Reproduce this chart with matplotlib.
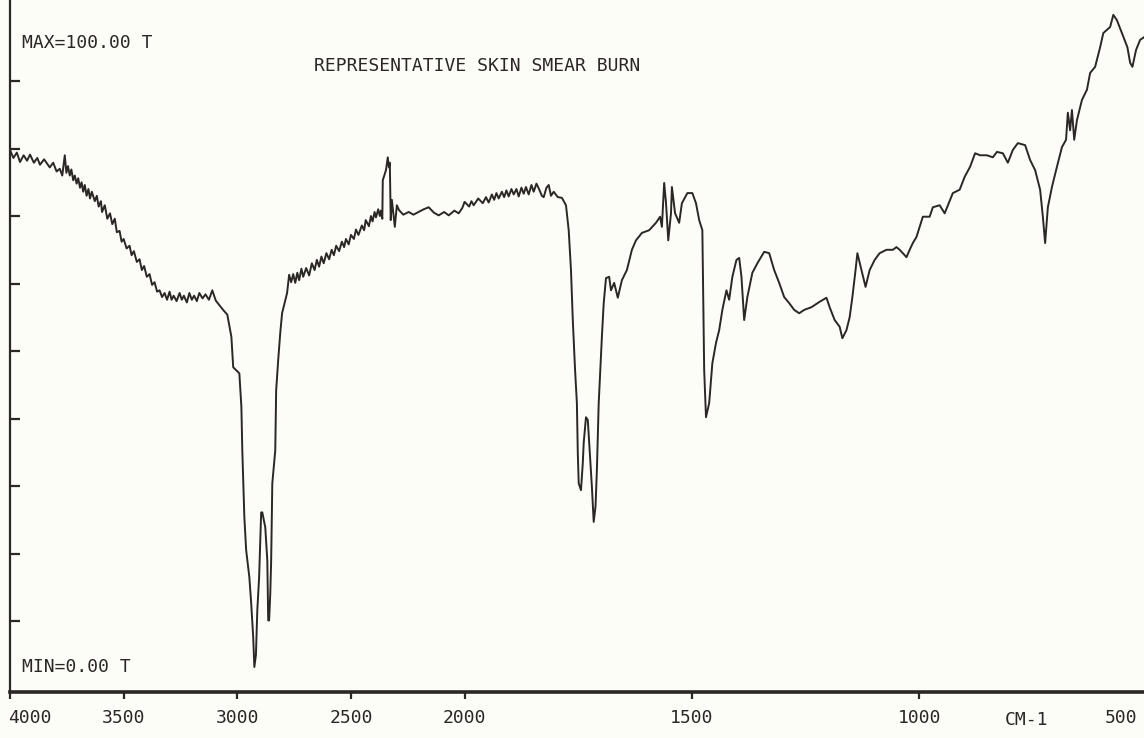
import numpy as np
import matplotlib.pyplot as plt
from matplotlib.transforms import ScaledTranslation

plt.rcParams['font.family'] = 'DejaVu Sans Mono'

# IR spectrum, wavenumber (cm-1) vs. transmittance (%T)
wavenumber = [
    4000, 3985, 3970, 3956, 3940, 3925, 3912, 3895, 3880, 3868, 3850, 3825,
    3810, 3795, 3781, 3770, 3759, 3752, 3745, 3737, 3730, 3722, 3715, 3707,
    3700, 3692, 3685, 3678, 3671, 3663, 3655, 3648, 3640, 3627, 3618, 3610,
    3600, 3595, 3583, 3572, 3560, 3550, 3539, 3530, 3518, 3509, 3500, 3487,
    3474, 3465, 3455, 3442, 3430, 3420, 3410, 3398, 3386, 3375, 3364, 3353,
    3342, 3331, 3320, 3309, 3298, 3289, 3280, 3267, 3254, 3244, 3235, 3222,
    3211, 3200, 3190, 3178, 3167, 3153, 3140, 3125, 3110,
    3095, 3079, 3060, 3044, 3026, 3018, 2991, 2982, 2978,
    2969, 2961, 2947, 2939, 2930, 2925, 2918, 2912, 2904, 2895, 2890, 2877,
    2868, 2864, 2860, 2855, 2851, 2846, 2833, 2829, 2820, 2811, 2803, 2781,
    2772, 2763, 2754, 2745, 2736, 2728, 2718, 2710, 2697, 2684, 2672, 2660,
    2650, 2640, 2630, 2620, 2608, 2596, 2585, 2575, 2565, 2552, 2540, 2530,
    2522, 2510, 2500, 2487, 2478, 2467, 2452, 2442, 2435, 2421, 2412, 2405,
    2396, 2390, 2380, 2373, 2368,
    2362, 2360, 2346, 2338, 2333, 2329, 2325, 2320, 2312, 2307, 2298, 2289,
    2270, 2246, 2225, 2202, 2180, 2158, 2135, 2114, 2090, 2070, 2045, 2026,
    2010, 2000,
    1990, 1985, 1980, 1970, 1960, 1953, 1947, 1940, 1935, 1930, 1925, 1918,
    1913, 1908, 1903, 1897, 1892, 1886, 1881, 1875, 1870, 1865, 1859, 1853,
    1848, 1842, 1837, 1830, 1826, 1820, 1815, 1810, 1804, 1795, 1786, 1777,
    1771,
    1766, 1762, 1757, 1753, 1751, 1749, 1744, 1740, 1738, 1733, 1729, 1724,
    1720, 1716, 1712, 1709, 1705, 1698, 1694, 1689, 1682, 1678, 1671, 1663,
    1654, 1643, 1632, 1623, 1610, 1594, 1579, 1570, 1566, 1561, 1557, 1552,
    1546, 1544, 1537, 1528, 1522, 1510, 1499, 1491, 1484, 1477, 1475, 1473,
    1469, 1462, 1455, 1447, 1440, 1433, 1424, 1418, 1411, 1402, 1396, 1391,
    1385, 1378, 1367, 1356, 1341, 1330, 1319, 1308, 1297, 1286, 1275, 1264,
    1253, 1237, 1219, 1204, 1197, 1186, 1175, 1169, 1160, 1153, 1147, 1140,
    1136, 1127, 1118, 1109, 1098, 1087, 1072, 1058, 1050, 1043, 1036, 1028,
    1021, 1014, 1006, 999, 992, 983, 977, 970, 955, 944, 926, 911,
    900, 888, 877, 866, 851, 838, 829, 816, 805, 794, 783, 767,
    756, 745, 734, 728, 723, 717, 708, 697, 686, 677, 673, 668,
    664, 659, 653, 642, 631, 624, 613, 602, 595, 580, 573, 565,
    554, 542, 536, 531, 523, 514, 505, 500,
]
transmittance = [
    79.8, 78.6, 79.4, 78.0, 79.0, 78.2, 79.1, 77.9, 78.6, 77.6, 78.4, 77.2,
    77.9, 76.6, 77.0, 76.0, 79.0, 76.4, 77.4, 76.0, 76.9, 75.3, 76.0, 74.8,
    75.6, 74.2, 75.0, 73.6, 74.6, 73.0, 74.0, 72.6, 73.6, 72.2, 73.0, 71.4,
    72.2, 70.6, 71.6, 69.6, 70.4, 68.8, 69.6, 67.6, 67.8, 66.2, 66.6, 65.2,
    65.6, 64.2, 64.8, 63.2, 63.6, 62.0, 62.6, 61.0, 61.4, 59.8, 60.2, 58.8,
    59.0, 58.0, 58.6, 57.6, 58.8, 57.6, 58.2, 57.4, 58.6, 57.6, 58.2, 57.2,
    58.6, 57.6, 58.2, 57.4, 58.6, 57.8, 58.4, 57.6, 59.0,
    57.5, 56.8, 56.0, 55.4, 52.1, 47.6, 46.7, 41.7, 35.3,
    25.4, 20.5, 16.5, 12.7, 7.6, 3.2, 5.0, 11.6, 16.5, 26.1, 26.1, 23.9,
    19.0, 10.1, 10.1, 14.0, 19.0, 30.4, 35.3, 44.2, 48.7, 52.7, 55.6, 58.6,
    61.3, 60.2, 61.4, 60.1, 61.6, 60.5, 62.2, 61.0, 62.3, 61.2, 63.0, 62.0,
    63.5, 62.5, 64.0, 63.0, 64.5, 63.6, 65.0, 64.2, 65.6, 64.8, 66.2, 65.4,
    66.6, 65.8, 67.2, 66.6, 68.0, 67.2, 68.6, 67.9, 69.4, 68.5, 70.0, 69.2,
    70.6, 69.8, 71.0, 70.0, 70.8,
    69.6, 75.3, 76.8, 78.7, 77.2, 77.9, 69.4, 72.4, 70.0, 68.4, 71.6, 70.9,
    70.2, 70.6, 70.2, 70.6, 71.0, 71.3, 70.5, 70.1, 70.6, 70.1, 70.8, 70.4,
    71.2, 72.1,
    71.4, 72.2, 71.6, 72.6, 71.9, 72.8, 72.0, 73.2, 72.4, 73.4, 72.6, 73.6,
    72.8, 73.8, 72.9, 74.0, 73.2, 74.0, 72.9, 74.2, 73.3, 74.3, 73.2, 74.6,
    73.6, 74.8, 74.1, 73.0, 72.8, 74.2, 74.6, 73.0, 73.6, 72.8, 72.7, 71.6,
    67.9,
    62.0, 54.6, 47.2, 42.3, 34.9, 30.4, 29.4, 33.4, 36.4, 40.2, 39.8, 34.3,
    29.9, 24.7, 27.0, 32.4, 42.3, 52.1, 57.1, 60.8, 61.0, 59.0, 60.1, 57.9,
    60.5, 62.0, 65.0, 66.4, 67.5, 67.9, 69.0, 69.9, 68.4, 74.9, 72.0, 66.4,
    70.4, 74.3, 70.4, 69.0, 71.9, 73.4, 73.4, 71.9, 69.4, 67.9, 57.1, 47.2,
    40.2, 42.3, 48.2, 51.2, 53.1, 56.1, 59.0, 57.6, 61.0, 63.5, 63.8, 61.0,
    54.6, 58.0, 61.6, 63.0, 64.7, 64.5, 62.0, 60.1, 58.0, 57.1, 56.1, 55.6,
    56.1, 56.5, 57.3, 57.9, 56.5, 54.6, 53.6, 51.9, 53.1, 55.0, 58.0, 62.0,
    64.5, 62.0, 59.5, 62.0, 63.5, 64.5, 65.0, 65.0, 65.4, 65.0, 64.5, 63.9,
    65.0, 66.0, 66.9, 68.4, 69.9, 69.9, 69.9, 71.3, 71.6, 70.4, 73.4, 73.9,
    75.8, 77.3, 79.3, 79.0, 79.0, 78.7, 79.5, 79.3, 77.9, 79.8, 80.8, 80.5,
    78.3, 76.8, 73.9, 69.9, 66.0, 71.3, 74.3, 77.3, 80.2, 81.3, 85.3, 82.7,
    85.7, 81.3, 84.2, 87.2, 88.7, 91.2, 92.1, 95.0, 97.1, 98.0, 99.8, 99.0,
    97.1, 95.0, 92.7, 92.1, 94.6, 96.1, 96.5, 97.0,
]

xtick_values = [4000, 3500, 3000, 2500, 2000, 1500, 1000, 500]
ytick_values = [10, 20, 30, 40, 50, 60, 70, 80, 90]

# below 2000 cm-1 the abscissa is stretched by a factor of two
BREAK = 2000.0


def forward(x):
    x = np.asarray(x, dtype=float)
    return np.where(x >= BREAK, x - BREAK, 2.0 * (x - BREAK))


def inverse(u):
    u = np.asarray(u, dtype=float)
    return np.where(u >= 0, u + BREAK, u / 2.0 + BREAK)


ink = '#2b2725'
paper = '#fdfdf8'

fig = plt.figure(figsize=(11.44, 7.38), dpi=100, facecolor=paper)
ax = fig.add_axes([10 / 1144, 46 / 738, 1136.5 / 1144, 692 / 738], facecolor=paper)

ax.set_xscale('function', functions=(forward, inverse))
ax.plot(wavenumber, transmittance, color=ink, lw=1.4)

ax.set_xlim(4000, 500)
ax.set_ylim(-0.5, 102)

for side in ['top', 'right']:
    ax.spines[side].set_visible(False)
ax.spines['left'].set_linewidth(1.6)
ax.spines['left'].set_color(ink)
ax.spines['bottom'].set_linewidth(2.6)
ax.spines['bottom'].set_color(ink)

ax.set_yticks(ytick_values)
ax.tick_params(axis='y', direction='in', length=7, width=1.6, color=ink, labelleft=False)
ax.set_xticks(xtick_values)
ax.set_xticklabels([str(v) for v in xtick_values])
ax.tick_params(axis='x', direction='out', length=5, width=1.6, color=ink,
               labelsize=13, labelcolor=ink, pad=7)
ax.minorticks_off()

# end labels are pulled inside the frame
labels = ax.get_xticklabels()
labels[0].set_ha('left')
labels[0].set_transform(labels[0].get_transform() + ScaledTranslation(-0.02, 0, fig.dpi_scale_trans))
labels[-1].set_transform(labels[-1].get_transform() + ScaledTranslation(-0.25, 0, fig.dpi_scale_trans))

fig.text(1026 / 1144, 1 - 720 / 738, 'CM-1', fontsize=13, color=ink, ha='center', va='center')

ax.text(0.0106, 0.938, 'MAX=100.00 T', transform=ax.transAxes, fontsize=13,
        color=ink, ha='left', va='center')
ax.text(0.0106, 0.036, 'MIN=0.00 T', transform=ax.transAxes, fontsize=13,
        color=ink, ha='left', va='center')
ax.text(477 / 1144, 1 - 66 / 738, 'REPRESENTATIVE SKIN SMEAR BURN', transform=fig.transFigure,
        fontsize=13, color=ink, ha='center', va='center')

fig.savefig('out.png', dpi=100, facecolor=paper)
